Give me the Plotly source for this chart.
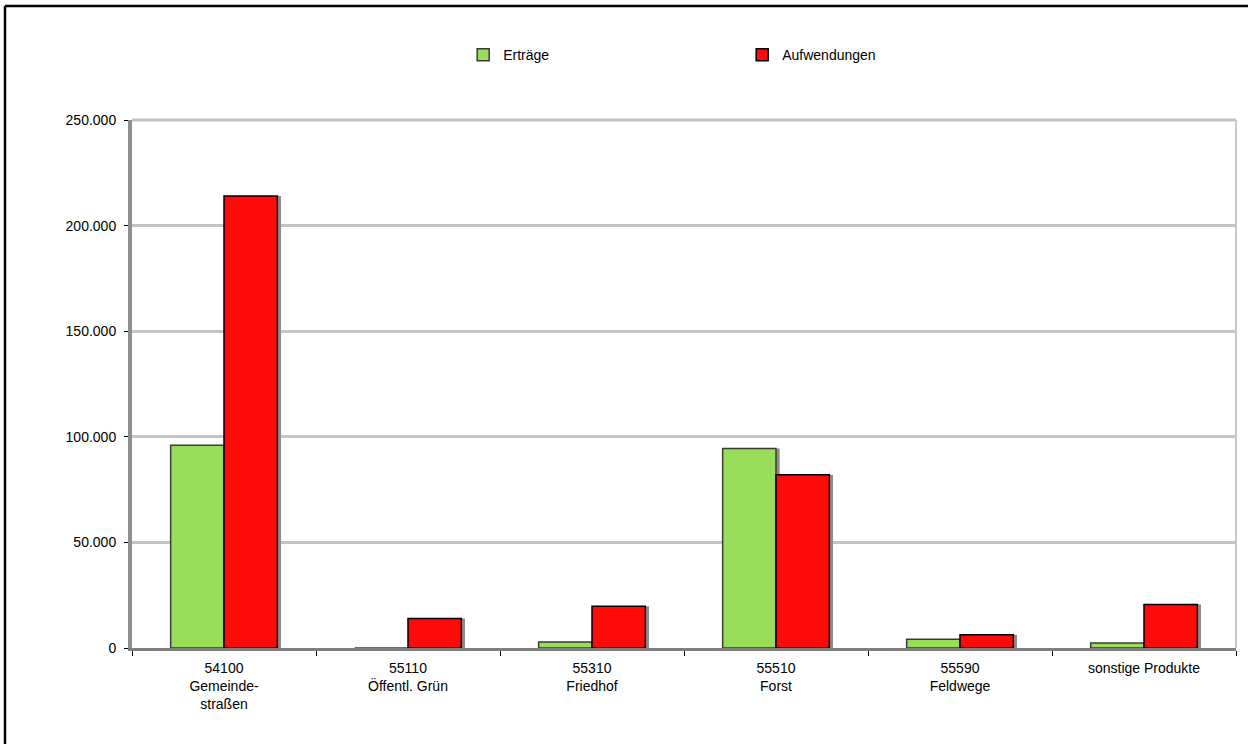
import plotly.graph_objects as go

categories = ["54100<br>Gemeinde-<br>straßen", "55110<br>Öffentl. Grün", "55310<br>Friedhof",
              "55510<br>Forst", "55590<br>Feldwege", "sonstige Produkte"]
ertraege = [96000, 0, 2800, 94500, 4200, 2400]
aufwendungen = [214000, 14000, 19800, 82000, 6300, 20600]
y_ticks = [0, 50000, 100000, 150000, 200000, 250000]

BW = 0.29
SH = 0.02

fig = go.Figure()
# shadows
for vals, off in [(ertraege, -BW), (aufwendungen, 0.0)]:
    fig.add_trace(go.Bar(x=categories, y=vals, width=BW, offset=off + SH,
                         marker=dict(color="#8c8c8c", line=dict(width=0)),
                         showlegend=False, hoverinfo="skip"))
fig.add_trace(go.Bar(x=categories, y=ertraege, name="Erträge", width=BW, offset=-BW,
                     marker=dict(color="#99dd5a", line=dict(color="#3a3a3a", width=1.5))))
fig.add_trace(go.Bar(x=categories, y=aufwendungen, name="Aufwendungen", width=BW, offset=0,
                     marker=dict(color="#ff0a0a", line=dict(color="#000000", width=1.5))))

fig.update_layout(
    width=1248, height=744,
    barmode="overlay",
    separators=",.",
    paper_bgcolor="white", plot_bgcolor="white",
    font=dict(family="Liberation Sans, Arial, sans-serif", size=14, color="black"),
    margin=dict(l=132, r=12, t=120, b=96),
    legend=dict(orientation="h", x=0.3, y=0.123 + 1, xanchor="left", yanchor="middle",
                entrywidth=234, entrywidthmode="pixels", font=dict(size=14)),
    xaxis=dict(type="category", tickson="boundaries", ticks="outside", ticklen=5,
               tickcolor="black", showline=True, linecolor="#7f7f7f", linewidth=3,
               showgrid=False, range=[-0.5, 5.5], ticklabelstandoff=5),
    yaxis=dict(range=[0, 250000], tickvals=y_ticks, tickformat=",d", ticks="outside",
               ticklen=4, tickcolor="black", showline=True, linecolor="#8f8f8f", linewidth=4,
               gridcolor="#c4c4c4", gridwidth=3, zeroline=False, ticklabelstandoff=5),
    shapes=[
        dict(type="line", xref="paper", yref="paper", x0=0, x1=1, y0=1, y1=1,
             line=dict(color="#c4c4c4", width=3), layer="below"),
        dict(type="line", xref="paper", yref="paper", x0=1, x1=1, y0=0, y1=1,
             line=dict(color="#c8c8c8", width=2)),
        dict(type="line", xref="paper", yref="paper", x0=-127/1104, x1=1.2, y0=1 + 114/528, y1=1 + 114/528,
             line=dict(color="black", width=2.5)),
        dict(type="line", xref="paper", yref="paper", x0=-127/1104, x1=-127/1104, y0=-0.3, y1=1 + 114/528,
             line=dict(color="black", width=2.5)),
    ],
)

fig.write_html("out.html", config={"displayModeBar": False},
               post_script="document.body.style.margin='0';document.body.style.overflow='hidden';")
